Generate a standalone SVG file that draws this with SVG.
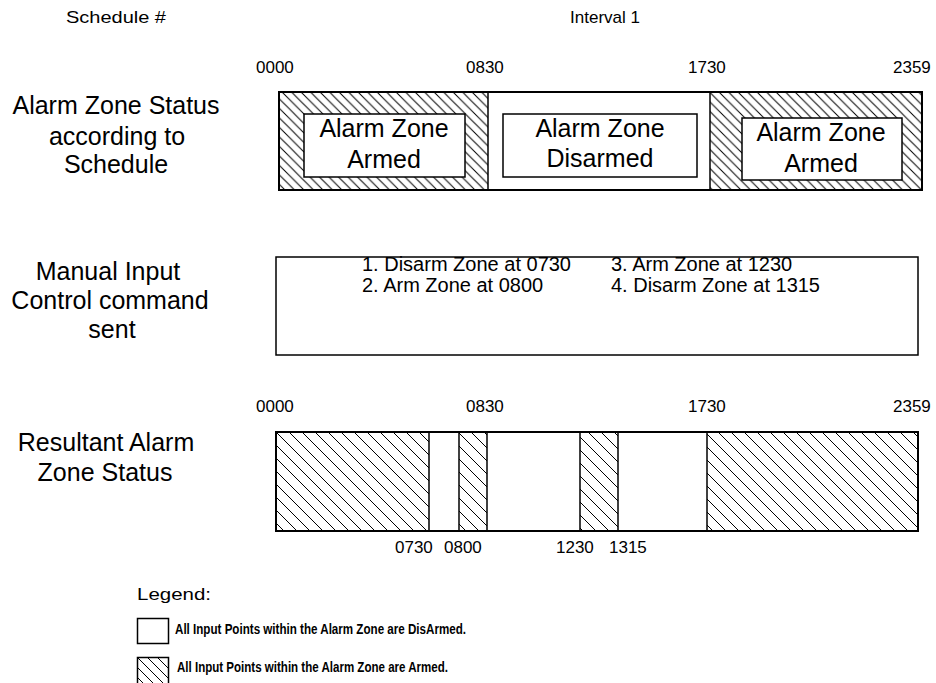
<svg xmlns="http://www.w3.org/2000/svg" width="936" height="683" viewBox="0 0 936 683">
<style>
text{font-family:"Liberation Sans",Arial,sans-serif;fill:#000}
.hd{font-size:17px}
.tm{font-size:17px}
.lb{font-size:25px;text-anchor:middle}
.bx{font-size:25px;text-anchor:middle}
.cmd{font-size:20px}
.lg{font-size:17px}
.lgs{font-size:14px;font-weight:bold}
.box{fill:#fff;stroke:#000;stroke-width:1.5}
.bar{fill:none;stroke:#000;stroke-width:2}
.div{stroke:#000;stroke-width:1.5}
</style>
<defs>
<pattern id="h1" patternUnits="userSpaceOnUse" width="9.5" height="9.5">
<rect width="9.5" height="9.5" fill="#fff"/>
<path d="M0,0L9.5,9.5M8.5,-1L10.5,1M-1,8.5L1,10.5" stroke="#000" stroke-width="1"/>
</pattern>
<pattern id="h2" patternUnits="userSpaceOnUse" width="13" height="13">
<rect width="13" height="13" fill="#fff"/>
<path d="M0,0L13,13M12,-1L14,1M-1,12L1,14" stroke="#000" stroke-width="1"/>
</pattern>
<pattern id="h3" patternUnits="userSpaceOnUse" width="10" height="10" x="137" y="657">
<rect width="10" height="10" fill="#fff"/>
<path d="M0,0L10,10M9,-1L11,1M-1,9L1,11" stroke="#000" stroke-width="1"/>
</pattern>
</defs>
<rect width="936" height="683" fill="#fff"/>

<g id="header">
<text class="hd" x="66" y="23" textLength="100" lengthAdjust="spacingAndGlyphs">Schedule #</text>
<text class="hd" x="570" y="23" textLength="70" lengthAdjust="spacingAndGlyphs">Interval 1</text>
</g>

<g id="labels-left">
<text class="lb" x="116" y="114">Alarm Zone Status</text>
<text class="lb" x="117" y="145">according to</text>
<text class="lb" x="116" y="173">Schedule</text>
<text class="lb" x="108" y="280">Manual Input</text>
<text class="lb" x="110" y="309">Control command</text>
<text class="lb" x="112" y="338">sent</text>
<text class="lb" x="106" y="451">Resultant Alarm</text>
<text class="lb" x="105" y="481">Zone Status</text>
</g>

<g id="top-times">
<text class="tm" x="256" y="73">0000</text>
<text class="tm" x="466" y="73">0830</text>
<text class="tm" x="688" y="73">1730</text>
<text class="tm" x="893" y="73">2359</text>
</g>

<g id="schedule-bar">
<rect x="279" y="92" width="209" height="98" fill="url(#h1)"/>
<rect x="710" y="92" width="212" height="98" fill="url(#h1)"/>
<rect x="279" y="92" width="643" height="98" class="bar"/>
<line x1="488" y1="92" x2="488" y2="190" class="div"/>
<line x1="710" y1="92" x2="710" y2="190" class="div"/>
</g>
<g id="armed-1">
<rect x="304" y="114" width="161" height="63" class="box"/>
<text class="bx" x="384" y="137">Alarm Zone</text>
<text class="bx" x="384" y="168">Armed</text>
</g>
<g id="disarmed">
<rect x="503" y="114" width="194" height="63" class="box"/>
<text class="bx" x="600" y="137">Alarm Zone</text>
<text class="bx" x="600" y="167">Disarmed</text>
</g>
<g id="armed-2">
<rect x="742" y="118" width="160" height="62" class="box"/>
<text class="bx" x="821" y="141">Alarm Zone</text>
<text class="bx" x="821" y="172">Armed</text>
</g>

<g id="manual-commands">
<rect x="276" y="257" width="642" height="98" class="box"/>
<text class="cmd" x="362" y="271">1. Disarm Zone at 0730</text>
<text class="cmd" x="362" y="292">2. Arm Zone at 0800</text>
<text class="cmd" x="611" y="271">3. Arm Zone at 1230</text>
<text class="cmd" x="611" y="292">4. Disarm Zone at 1315</text>
</g>

<g id="result-times">
<text class="tm" x="256" y="412">0000</text>
<text class="tm" x="466" y="412">0830</text>
<text class="tm" x="688" y="412">1730</text>
<text class="tm" x="893" y="412">2359</text>
<text class="tm" x="395" y="553">0730</text>
<text class="tm" x="444" y="553">0800</text>
<text class="tm" x="556" y="553">1230</text>
<text class="tm" x="609" y="553">1315</text>
</g>

<g id="result-bar">
<rect x="276" y="432" width="153" height="99" fill="url(#h2)"/>
<rect x="459" y="432" width="28" height="99" fill="url(#h2)"/>
<rect x="580" y="432" width="38" height="99" fill="url(#h2)"/>
<rect x="707" y="432" width="211" height="99" fill="url(#h2)"/>
<rect x="276" y="432" width="642" height="99" class="bar"/>
<line x1="429" y1="432" x2="429" y2="531" class="div"/>
<line x1="459" y1="432" x2="459" y2="531" class="div"/>
<line x1="487" y1="432" x2="487" y2="531" class="div"/>
<line x1="580" y1="432" x2="580" y2="531" class="div"/>
<line x1="618" y1="432" x2="618" y2="531" class="div"/>
<line x1="707" y1="432" x2="707" y2="531" class="div"/>
</g>

<g id="legend">
<text class="lg" x="137" y="600" textLength="74" lengthAdjust="spacingAndGlyphs">Legend:</text>
<rect x="137.5" y="618.5" width="31" height="25" class="box"/>
<text class="lgs" x="175" y="634" textLength="291" lengthAdjust="spacingAndGlyphs">All Input Points within the Alarm Zone are DisArmed.</text>
<rect x="137.5" y="657.5" width="31" height="30" fill="url(#h3)" stroke="#000" stroke-width="1.5"/>
<text class="lgs" x="177" y="672" textLength="271" lengthAdjust="spacingAndGlyphs">All Input Points within the Alarm Zone are Armed.</text>
</g>
</svg>
